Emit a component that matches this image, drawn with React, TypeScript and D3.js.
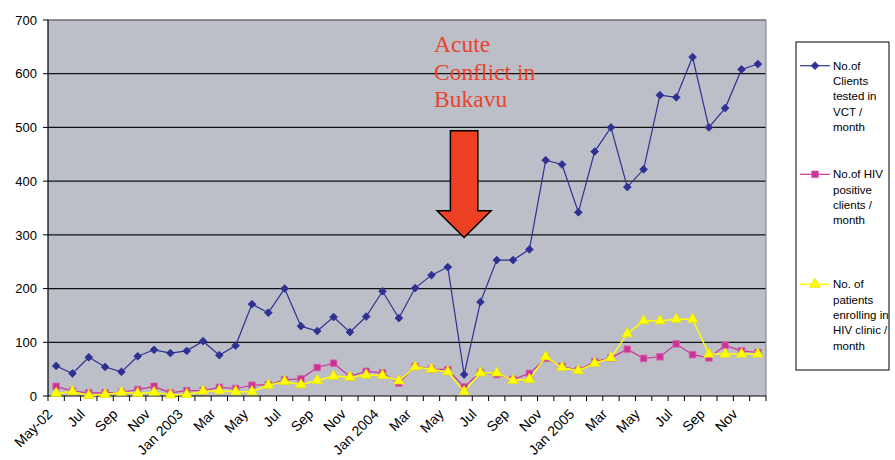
import React, { useEffect, useRef } from 'react';
import * as d3 from 'd3';

const months = [
  'May 2002', 'Jun 2002', 'Jul 2002', 'Aug 2002', 'Sep 2002', 'Oct 2002', 'Nov 2002', 'Dec 2002',
  'Jan 2003', 'Feb 2003', 'Mar 2003', 'Apr 2003', 'May 2003', 'Jun 2003', 'Jul 2003', 'Aug 2003',
  'Sep 2003', 'Oct 2003', 'Nov 2003', 'Dec 2003', 'Jan 2004', 'Feb 2004', 'Mar 2004', 'Apr 2004',
  'May 2004', 'Jun 2004', 'Jul 2004', 'Aug 2004', 'Sep 2004', 'Oct 2004', 'Nov 2004', 'Dec 2004',
  'Jan 2005', 'Feb 2005', 'Mar 2005', 'Apr 2005', 'May 2005', 'Jun 2005', 'Jul 2005', 'Aug 2005',
  'Sep 2005', 'Oct 2005', 'Nov 2005', 'Dec 2005',
];

const tickLabels = [
  'May-02', '', 'Jul', '', 'Sep', '', 'Nov', '', 'Jan 2003', '', 'Mar', '', 'May', '', 'Jul', '',
  'Sep', '', 'Nov', '', 'Jan 2004', '', 'Mar', '', 'May', '', 'Jul', '', 'Sep', '', 'Nov', '',
  'Jan 2005', '', 'Mar', '', 'May', '', 'Jul', '', 'Sep', '', 'Nov', '',
];

const clientsTested = [
  56, 42, 72, 54, 45, 74, 86, 80, 84, 102, 76, 94, 171, 155, 200, 130, 121, 147, 119, 148,
  195, 145, 201, 225, 240, 40, 175, 253, 253, 273, 439, 431, 342, 455, 500, 389, 422, 560, 556, 631,
  500, 536, 608, 618,
];

const hivPositive = [
  18, 9, 6, 6, 7, 12, 18, 6, 10, 10, 16, 14, 20, 21, 30, 32, 53, 61, 36, 46,
  43, 24, 55, 50, 49, 17, 44, 40, 31, 42, 70, 55, 48, 64, 71, 87, 70, 73, 97, 77,
  71, 94, 84, 81,
];

const enrolling = [
  5, 8, 1, 3, 7, 5, 7, 2, 3, 9, 10, 8, 8, 20, 27, 21, 29, 37, 35, 39,
  38, 28, 54, 50, 45, 8, 43, 43, 29, 31, 73, 53, 47, 61, 71, 116, 140, 140, 143, 143,
  78, 78, 78, 78,
];

const yTicks = [0, 100, 200, 300, 400, 500, 600, 700];

const legendLabels = [
  ['No.of', 'Clients', 'tested in', 'VCT /', 'month'],
  ['No.of HIV', 'positive', 'clients /', 'month'],
  ['No. of', 'patients', 'enrolling in', 'HIV clinic /', 'month'],
];

// annotation: arrow pointing at the drop in June 2004
const arrowMonth = 'Jun 2004';
const arrowTop = 494;
const arrowHead = 345;
const arrowTip = 295;
const annotationLines = ['Acute', 'Conflict in', 'Bukavu'];

const W = 895;
const H = 460;

const App: React.FC = () => {
  const svgRef = useRef<SVGSVGElement>(null);

  useEffect(() => {
    if (!svgRef.current) return;
    const svg = d3.select(svgRef.current);
    svg.selectAll('*').remove();

    const margin = { top: 20, right: 129, bottom: 64, left: 48 };
    const width = W - margin.left - margin.right;
    const height = H - margin.top - margin.bottom;
    const font = 'Arial, "Liberation Sans", sans-serif';

    const x = d3.scaleBand<string>().domain(months).range([0, width]).padding(0);
    const y = d3.scaleLinear().domain([0, 700]).range([height, 0]);
    const cx = (m: string) => (x(m) || 0) + x.bandwidth() / 2;

    const g = svg.append('g').attr('transform', `translate(${margin.left},${margin.top})`);

    // plot background
    g.append('rect')
      .attr('width', width)
      .attr('height', height)
      .attr('fill', '#bcbec8');

    // gridlines
    g.selectAll('.grid')
      .data(yTicks.filter(t => t > 0 && t < 700))
      .enter().append('line')
      .attr('x1', 0).attr('x2', width)
      .attr('y1', d => y(d)).attr('y2', d => y(d))
      .attr('stroke', '#111')
      .attr('stroke-width', 1.2);

    g.append('line')
      .attr('x1', 0).attr('x2', width)
      .attr('y1', y(700)).attr('y2', y(700))
      .attr('stroke', '#6e6f74').attr('stroke-width', 1.5);
    g.append('line')
      .attr('x1', width).attr('x2', width)
      .attr('y1', 0).attr('y2', height)
      .attr('stroke', '#8a8b90').attr('stroke-width', 1.2);

    // y axis
    g.append('line')
      .attr('x1', 0).attr('x2', 0).attr('y1', 0).attr('y2', height)
      .attr('stroke', '#000').attr('stroke-width', 1.2);
    g.selectAll('.ytick')
      .data(yTicks)
      .enter().append('line')
      .attr('x1', -5).attr('x2', 0)
      .attr('y1', d => y(d)).attr('y2', d => y(d))
      .attr('stroke', '#000');
    g.selectAll('.ylabel')
      .data(yTicks)
      .enter().append('text')
      .attr('x', -11)
      .attr('y', d => y(d))
      .attr('dy', '0.36em')
      .attr('text-anchor', 'end')
      .style('font-family', font)
      .style('font-size', '13px')
      .attr('fill', '#000')
      .text(d => d);

    // x axis
    g.append('line')
      .attr('x1', 0).attr('x2', width).attr('y1', height).attr('y2', height)
      .attr('stroke', '#000').attr('stroke-width', 1.2);
    const bounds = months.map(m => x(m) || 0).concat([width]);
    g.selectAll('.xtick')
      .data(bounds)
      .enter().append('line')
      .attr('x1', d => d).attr('x2', d => d)
      .attr('y1', height).attr('y2', height + 5)
      .attr('stroke', '#000');
    g.selectAll('.xlabel')
      .data(months.map((m, i) => ({ m, label: tickLabels[i] })).filter(d => d.label))
      .enter().append('text')
      .attr('transform', d => `translate(${cx(d.m) - 3},${height + 19}) rotate(-45)`)
      .attr('text-anchor', 'end')
      .style('font-family', font)
      .style('font-size', '14px')
      .attr('fill', '#000')
      .text(d => d.label);

    // series
    const series = [
      { values: clientsTested, color: '#2e3192', width: 1.2, symbol: d3.symbolSquare, size: 30, rotate: 45, fill: '#2e3192', stroke: '#2e3192' },
      { values: hivPositive, color: '#cc3399', width: 1.2, symbol: d3.symbolSquare, size: 44, rotate: 0, fill: '#cc3399', stroke: '#d966b0' },
      { values: enrolling, color: '#ffff00', width: 1.5, symbol: d3.symbolTriangle, size: 48, rotate: 0, fill: '#ffff00', stroke: '#e6e600' },
    ];

    series.forEach(s => {
      const line = d3.line<number>()
        .x((_, i) => cx(months[i]))
        .y(d => y(d));
      g.append('path')
        .datum(s.values)
        .attr('fill', 'none')
        .attr('stroke', s.color)
        .attr('stroke-width', s.width)
        .attr('d', line);
      g.selectAll(null)
        .data(s.values)
        .enter().append('path')
        .attr('d', d3.symbol(s.symbol, s.size)())
        .attr('transform', (d, i) => `translate(${cx(months[i])},${y(d)}) rotate(${s.rotate})`)
        .attr('fill', s.fill)
        .attr('stroke', s.stroke)
        .attr('stroke-width', 0.8);
    });

    // arrow annotation
    const ax = cx(arrowMonth);
    const shaftHalf = 13.7;
    const headHalf = 27;
    const arrowPts: [number, number][] = [
      [ax - shaftHalf, y(arrowTop)],
      [ax + shaftHalf, y(arrowTop)],
      [ax + shaftHalf, y(arrowHead)],
      [ax + headHalf, y(arrowHead)],
      [ax, y(arrowTip)],
      [ax - headHalf, y(arrowHead)],
      [ax - shaftHalf, y(arrowHead)],
    ];
    g.append('path')
      .attr('d', 'M' + arrowPts.map(p => p.join(',')).join('L') + 'Z')
      .attr('fill', '#ee4023')
      .attr('stroke', '#000')
      .attr('stroke-width', 1.5)
      .attr('stroke-linejoin', 'miter');

    g.selectAll('.annot')
      .data(annotationLines)
      .enter().append('text')
      .attr('x', ax - 30)
      .attr('y', (_, i) => y(640) + i * 27.3)
      .style('font-family', '"Liberation Serif", "Times New Roman", serif')
      .style('font-size', '23.5px')
      .attr('fill', '#e8432c')
      .text(d => d);

    // legend
    const lg = svg.append('g').attr('transform', 'translate(796,42)');
    lg.append('rect')
      .attr('width', 93)
      .attr('height', 328)
      .attr('fill', '#fff')
      .attr('stroke', '#000')
      .attr('stroke-width', 1);
    const entryY = [23.7, 132.3, 242.3];
    series.forEach((s, k) => {
      const eg = lg.append('g').attr('transform', `translate(0,${entryY[k]})`);
      eg.append('line')
        .attr('x1', 4).attr('x2', 34)
        .attr('stroke', s.color).attr('stroke-width', s.width);
      eg.append('path')
        .attr('d', d3.symbol(s.symbol, s.size)())
        .attr('transform', `translate(19,0) rotate(${s.rotate})`)
        .attr('fill', s.fill)
        .attr('stroke', s.stroke)
        .attr('stroke-width', 0.8);
      eg.selectAll('text')
        .data(legendLabels[k])
        .enter().append('text')
        .attr('x', 37)
        .attr('y', (_, i) => i * 15.3)
        .attr('dy', '0.36em')
        .style('font-family', font)
        .style('font-size', '11.5px')
        .attr('fill', '#000')
        .text(d => d);
    });
  }, []);

  return (
    <svg
      ref={svgRef}
      width={W}
      height={H}
      style={{ position: 'absolute', left: 0, top: 0, background: '#fff' }}
    />
  );
};

export default App;
